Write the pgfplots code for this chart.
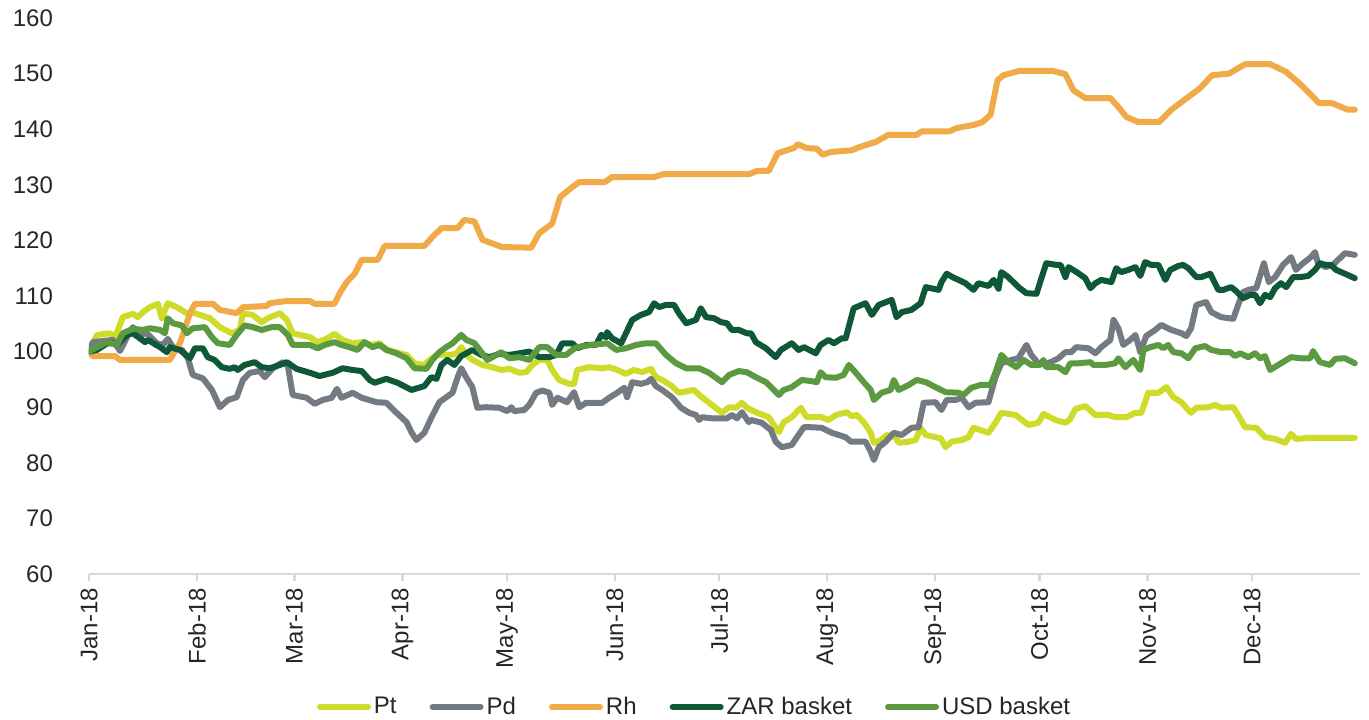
\documentclass[border=0pt]{standalone}
\usepackage{pgfplots}
\pgfplotsset{compat=1.18}
\usepackage{fontspec}
\setmainfont{Liberation Sans}
\definecolor{cPt}{RGB}{206,219,41}
\definecolor{cPd}{RGB}{115,122,130}
\definecolor{cRh}{RGB}{240,170,72}
\definecolor{cZAR}{RGB}{14,88,56}
\definecolor{cUSD}{RGB}{91,154,65}
\definecolor{axgray}{RGB}{217,217,217}
\begin{document}
\begin{tikzpicture}
\path[use as bounding box] (-44.5pt,-72.5pt) rectangle (640pt,287pt);
\begin{axis}[
  scale only axis,
  width=635.5pt, height=278pt,
  xmin=0, xmax=365, ymin=60, ymax=160,
  axis lines*=left,
  y axis line style={draw=none},
  x axis line style={draw=axgray, line width=1.2pt},
  ytick={60,70,...,160},
  ytick style={draw=none},
  xtick={0,31,59,90,120,151,181,212,243,273,304,334},
  xticklabels={Jan-18,Feb-18,Mar-18,Apr-18,May-18,Jun-18,Jul-18,Aug-18,Sep-18,Oct-18,Nov-18,Dec-18},
  xtick style={draw=axgray, line width=1.2pt},
  tick align=outside,
  major tick length=3.5pt,
  /pgf/number format/assume math mode=true,
  tick label style={font=\fontsize{12}{14}\selectfont, text=black!85},
  yticklabel style={xshift=-11pt},
  xticklabel style={rotate=90, anchor=east},
  legend style={at={(0.4768,-0.2392)}, anchor=center, draw=none, fill=none,
    font=\fontsize{12}{14}\selectfont, text=black!85,
    /tikz/every even column/.append style={column sep=15pt},
    nodes={inner sep=1.5pt}},
  legend columns=-1,
  legend image code/.code={\draw[line width=3pt, line cap=round] (0pt,0pt) -- (24pt,0pt);},
  every axis plot/.append style={line width=3pt, line join=round, line cap=round},
]
\addplot[cPt] coordinates {
(0,100)(2.3,103)(6.0,103.3)(7.5,102.6)(9.7,106.2)(12.6,106.8)(14.0,106.2)(15.5,107.1)(17.5,108)(19.8,108.6)(20.9,106)(22.6,108.7)(25.2,108)(28.1,106.9)(30.4,106.9)(31.8,106.6)(34.7,106)(37.6,104.4)(41.0,103.3)(43.3,103.9)(44.2,106.9)(47.0,106.6)(49.6,105.3)(51.3,106)(54.8,106.9)(56.8,105.7)(58.5,103.3)(60.5,103)(63.4,102.6)(65.7,101.7)(68.2,102.3)(70.5,103.2)(72.8,102.1)(75.7,101.5)(78.6,101.7)(81.1,101.2)(83.4,101.5)(85.7,100.3)(89.2,99.7)(91.2,99.4)(93.5,97.9)(96.3,97.6)(97.8,98.5)(99.8,99.4)(103.5,99.4)(105.5,99.6)(106.9,100.8)(108.4,99.4)(110.1,98.5)(113.0,97.6)(115.8,97.2)(118.4,96.7)(120.7,96.9)(123.6,96.2)(125.6,96.3)(127.3,97.6)(129.3,98.5)(131.6,98.5)(133.0,96.7)(135.0,94.9)(137.9,94.2)(139.3,94.2)(140.2,96.7)(143.6,97.2)(147.4,97)(149.4,97.2)(151.7,96.7)(154.2,96)(156.5,96.7)(158.8,96.3)(161.4,96.9)(162.8,95.4)(164.6,94.9)(167.4,93.8)(169.4,92.6)(173.7,93.1)(176.0,91.8)(178.9,90.4)(181.8,89)(183.8,90)(185.8,89.9)(187.5,90.8)(188.9,89.9)(191.5,89.1)(195.2,88.2)(198.1,85.5)(199.5,87.3)(201.8,88.2)(204.4,89.9)(206.1,88.2)(210.4,88.2)(212.4,87.7)(214.5,88.6)(217.6,89.1)(219.0,88.4)(220.5,88.6)(222.5,87.3)(224.5,85.4)(225.4,83.6)(227.4,84.1)(229.1,85)(231.7,84.6)(232.5,83.6)(235.4,83.8)(237.4,84.1)(238.8,86.3)(240.3,85)(243.1,84.6)(244.6,84.4)(246.0,82.8)(247.7,83.8)(250.6,84.1)(252.6,84.6)(254.0,86.3)(258.3,85.4)(260.3,87.2)(262.0,89)(266.1,88.6)(269.8,86.8)(272.6,87.2)(274.1,88.8)(277.5,87.7)(280.4,87.2)(281.8,87.9)(283.3,89.7)(286.1,90.2)(289.0,88.6)(292.7,88.6)(294.7,88.2)(297.9,88.2)(300.5,89)(302.2,89)(304.2,92.6)(307.1,92.6)(309.4,93.6)(311.4,91.8)(313.7,90.9)(315.1,89.9)(316.5,89)(318.0,89.9)(321.4,90)(323.4,90.4)(325.1,89.9)(328.6,90)(330.0,88.6)(332.0,86.4)(335.2,86.3)(337.7,84.6)(340.6,84.3)(343.5,83.6)(345.2,85.2)(346.6,84.3)(350.9,84.5)(363.5,84.5)
};
\addlegendentry{Pt}
\addplot[cPd] coordinates {
(0,100)(1.1,101.7)(6.9,102.1)(8.9,100.1)(10.9,102.6)(12.6,104.4)(14.6,103)(16.6,103.3)(19.5,101.5)(21.2,101.2)(22.6,102.3)(24.1,100.8)(26.7,100.3)(28.4,98.8)(29.8,95.8)(32.7,95.2)(35.3,93.1)(37.6,90)(39.9,91.3)(42.4,91.8)(44.2,94.9)(46.2,96.2)(49.0,96.5)(50.5,95.4)(52.8,97)(55.6,98.1)(57.1,97.5)(58.5,92.2)(62.5,91.7)(64.8,90.6)(67.1,91.3)(69.7,91.7)(71.2,93.3)(72.5,91.7)(75.7,92.6)(78.3,91.7)(82.6,90.9)(85.4,90.8)(88.3,89)(91.2,87.3)(92.6,85.5)(94.0,84.1)(96.3,85.4)(98.3,88.1)(100.6,90.9)(102.6,91.8)(104.4,92.6)(105.8,95.3)(106.9,97)(108.4,95.3)(110.1,93.6)(111.5,89.9)(114.1,90)(117.8,89.9)(120.1,89.3)(121.3,90)(122.1,89.3)(125.0,89.5)(126.4,90.4)(128.4,92.6)(130.2,93)(132.2,92.6)(133.0,90.4)(134.5,91.7)(137.3,90.9)(139.3,92.7)(140.8,90)(142.8,90.8)(147.4,90.8)(149.4,91.7)(151.7,92.6)(153.7,93.5)(154.5,91.8)(156.0,94.5)(158.5,94.2)(160.3,94.5)(161.4,95.1)(162.8,93.8)(164.6,93.1)(167.4,91.8)(170.0,89.9)(172.3,89)(174.3,88.6)(175.2,87.7)(176.0,88.2)(178.9,88)(183.2,88)(184.6,88.6)(186.1,88)(187.5,89.1)(189.5,87.3)(190.1,87.7)(193.2,87.2)(195.8,85.9)(197.2,83.8)(199.0,82.8)(201.8,83.2)(203.3,84.6)(205.3,86.4)(207.3,86.4)(210.4,86.3)(213.3,85.4)(217.3,84.6)(218.8,83.8)(223.0,83.8)(224.5,82)(225.4,80.5)(226.8,82.8)(228.8,83.8)(231.1,85.4)(233.4,85)(236.2,86.3)(238.2,86.4)(239.7,90.8)(243.1,90.9)(244.8,89.5)(246.3,91.3)(248.9,91.3)(250.6,91.7)(252.6,90)(254.6,90.8)(258.3,90.9)(260.3,95.4)(262.0,97.9)(264.9,98.5)(266.9,98.8)(269.2,101.2)(270.6,99.4)(272.6,97.9)(275.5,97.9)(278.4,98.8)(280.4,99.9)(282.1,99.9)(283.5,100.8)(287.0,100.6)(289.0,99.7)(290.7,100.8)(293.3,102.1)(294.2,105.7)(295.6,104.2)(297.0,101.2)(299.0,102.1)(300.5,103)(301.9,99.9)(303.6,102.8)(306.2,103.9)(307.9,104.8)(310.8,103.9)(313.7,103.3)(315.1,102.8)(316.5,104.2)(318.0,108.4)(320.8,108.9)(322.3,107.1)(325.1,106.2)(328.6,105.9)(330.0,108.4)(331.4,110.7)(332.9,111.1)(335.2,111.4)(337.4,115.9)(338.8,112.5)(340.6,113.4)(342.9,115.6)(345.2,117)(346.6,114.7)(348.1,115.6)(350.9,117)(352.1,117.9)(352.9,115.9)(355.2,115.2)(357.2,115.6)(358.7,116.5)(360.7,117.7)(363.5,117.4)
};
\addlegendentry{Pd}
\addplot[cRh] coordinates {
(0,100)(1.1,99.2)(7.5,99.2)(8.9,98.5)(23.2,98.5)(26.1,101.5)(29.0,106.9)(30.4,108.6)(35.6,108.6)(37.6,107.5)(42.4,106.9)(44.2,108)(51.0,108.2)(51.9,108.7)(56.8,109.1)(63.4,109.1)(64.8,108.6)(70.5,108.6)(72.0,110.5)(74.0,112.5)(76.3,114)(78.3,116.5)(82.9,116.5)(84.9,119)(96.3,119)(98.6,120.6)(101.2,122.2)(105.8,122.2)(107.8,123.7)(110.7,123.4)(113.0,120.1)(118.7,118.8)(127.0,118.7)(129.3,121.3)(133.0,123)(135.3,127.8)(138.8,129.6)(140.8,130.5)(148.2,130.5)(150.2,131.4)(162.3,131.4)(164.9,131.9)(189.5,131.9)(191.8,132.5)(195.2,132.5)(197.8,135.7)(202.4,136.6)(203.6,137.3)(206.1,136.6)(209.0,136.5)(210.7,135.4)(213.0,135.9)(219.0,136.2)(221.3,136.8)(225.9,137.7)(229.6,139)(237.7,139)(239.1,139.6)(247.1,139.6)(249.1,140.2)(254.3,140.8)(256.6,141.3)(258.9,142.6)(260.9,148.8)(262.6,149.7)(267.2,150.5)(276.7,150.5)(280.4,149.9)(282.7,147)(286.1,145.6)(293.3,145.6)(295.6,144)(297.9,142.2)(301.3,141.3)(307.3,141.3)(310.8,143.5)(315.7,145.8)(319.1,147.4)(322.5,149.7)(327.4,150)(332.0,151.7)(339.2,151.7)(343.8,150.3)(347.5,148.3)(350.9,146.2)(353.2,144.7)(356.9,144.7)(361.5,143.5)(363.5,143.5)
};
\addlegendentry{Rh}
\addplot[cZAR] coordinates {
(0,100)(2.3,100.3)(5.2,101.5)(6.9,101.5)(8.0,101.2)(10.9,103)(12.6,103.3)(14.6,102.4)(16.1,101.7)(16.9,102.1)(20.4,100.8)(22.4,99.9)(23.2,100.8)(26.1,100.3)(29.0,98.8)(30.4,100.6)(32.7,100.6)(34.1,99)(36.1,98.5)(38.1,97.2)(40.4,96.9)(41.9,97.2)(42.7,96.7)(44.7,97.6)(47.6,98.1)(49.6,97.2)(51.9,97)(54.8,97.6)(56.8,98.1)(59.6,96.9)(63.4,96.2)(66.2,95.6)(70.0,96.2)(72.8,97)(75.7,96.7)(78.3,96.5)(80.6,94.9)(82.0,94.4)(85.4,95.1)(88.6,94.4)(92.6,93.1)(96.3,93.8)(98.3,95.4)(99.8,95.1)(101.2,97.6)(102.9,98.5)(104.9,97.6)(106.9,99.2)(110.1,100.3)(112.7,99.4)(115.0,99)(117.8,99.6)(120.7,99.4)(123.6,99.7)(126.4,100)(129.3,99)(132.2,99)(134.2,99.4)(135.9,101.5)(138.8,101.5)(140.2,100.6)(142.8,101.2)(145.6,101.2)(147.1,103)(148.5,102.6)(148.8,103.5)(150.2,102.4)(152.8,101.5)(154.2,103.3)(156.0,105.7)(158.5,106.6)(160.8,107.1)(162.3,108.7)(163.7,108)(165.7,108.4)(168.0,108.4)(169.4,106.9)(171.5,105.1)(174.3,105.7)(175.7,107.8)(177.2,106.2)(179.5,106)(181.5,105.3)(183.2,105.1)(184.6,103.9)(186.6,103.9)(188.9,103.3)(190.1,103.3)(191.5,101.7)(194.4,100.6)(197.2,99)(198.7,100.3)(201.8,101.5)(203.8,100.3)(205.3,100.8)(208.7,99.7)(210.1,101.2)(212.4,102.1)(213.9,101.5)(216.2,102.4)(217.3,102.4)(219.6,107.8)(223.0,108.7)(224.8,106.6)(226.8,108.4)(230.5,109.3)(231.9,106.2)(233.4,107.1)(236.2,107.5)(238.8,108.7)(240.3,111.6)(244.0,111.1)(244.8,112.5)(246.3,114)(248.3,113.3)(249.7,112.9)(251.7,112.3)(254.0,111.1)(255.4,112.3)(258.3,111.8)(259.8,112.9)(261.2,111.3)(262.0,114.3)(264.0,113.4)(266.9,111.6)(269.2,110.5)(272.1,110.4)(273.5,113.2)(274.9,115.9)(277.8,115.6)(279.0,115.6)(280.4,113.4)(281.3,115.2)(284.1,114.1)(286.1,113.2)(287.6,111.4)(289.0,112.3)(290.7,112.9)(293.6,112.5)(295.0,115)(296.4,114.3)(298.5,114.7)(300.5,115.2)(301.9,113.6)(303.3,116.1)(305.0,115.6)(307.1,115.6)(309.1,112.9)(310.5,114.7)(312.8,115.4)(314.2,115.6)(315.7,115)(318.0,113.4)(319.4,113.4)(322.0,114)(324.3,111.1)(325.7,111.1)(328.0,111.6)(329.4,110.9)(331.4,109.6)(333.4,110.2)(334.9,110.2)(336.3,108.7)(337.7,110.2)(339.2,109.8)(340.6,111.4)(342.3,112.3)(343.8,111.6)(345.8,113.4)(347.8,113.4)(350.1,113.6)(352.1,114.7)(353.5,115.9)(355.0,115.6)(356.7,115.6)(358.1,114.7)(360.7,114)(363.5,113.2)
};
\addlegendentry{ZAR basket}
\addplot[cUSD] coordinates {
(0,100)(2.3,100.8)(5.2,101.7)(8.0,101.2)(9.7,103.3)(12.6,104.1)(15.5,103.9)(17.5,104.2)(20.4,103.9)(21.8,103.3)(22.6,106)(24.1,105.1)(26.7,104.7)(28.1,103.3)(29.8,104.2)(33.3,104.4)(35.3,102.6)(37.0,101.5)(40.4,101.2)(42.4,103)(44.7,104.7)(47.0,104.4)(49.6,103.9)(52.5,104.4)(54.8,104.4)(57.1,103)(58.5,101.2)(63.4,101.2)(65.7,100.6)(67.7,101.2)(70.5,101.7)(72.5,101.2)(74.8,100.8)(77.1,100.3)(79.1,101.7)(81.4,100.8)(83.4,101.2)(85.4,100.3)(88.3,99.7)(91.2,98.8)(93.5,97)(96.9,96.9)(98.6,98.5)(100.6,99.9)(102.6,100.8)(104.4,101.5)(106.9,103)(108.4,102.1)(110.7,101.5)(112.7,99.9)(114.4,98.5)(117.0,99.4)(118.4,99.9)(120.7,98.8)(123.6,99)(126.4,98.5)(129.3,100.8)(131.6,100.8)(134.2,99.4)(137.0,99.4)(138.8,100.3)(140.2,100.8)(144.2,101.2)(148.8,101.5)(151.4,100.3)(154.2,100.6)(157.1,101.2)(160.0,101.5)(162.8,101.5)(165.7,99.4)(168.6,97.9)(171.5,97)(175.2,97)(178.0,96.2)(181.8,94.5)(183.8,95.8)(186.6,96.5)(188.9,96.3)(191.5,95.4)(194.4,94.5)(196.7,93.1)(198.1,92.2)(199.5,93.1)(201.8,93.6)(204.7,94.9)(207.3,94.7)(209.0,94.5)(210.1,96.3)(211.5,95.4)(214.5,95.3)(216.7,95.8)(218.2,97.6)(220.2,96.2)(222.5,94.5)(224.5,93.1)(225.4,91.3)(227.6,92.6)(230.2,93.1)(231.1,94.9)(232.5,93.1)(235.4,94)(237.7,94.9)(240.3,94.5)(243.1,93.6)(246.0,92.7)(249.7,92.6)(251.1,92.2)(253.4,93.5)(256.0,94)(258.9,94)(260.3,96.2)(262.0,99.4)(264.0,98.1)(266.3,97.2)(268.4,98.5)(270.6,97.6)(273.2,97.6)(274.1,98.5)(274.9,97.2)(278.4,97.2)(280.4,96.3)(281.8,97.9)(284.1,97.9)(287.6,98.1)(288.4,97.6)(291.9,97.6)(294.7,97.9)(295.6,98.8)(297.6,97.2)(299.9,98.5)(301.9,96.7)(302.8,100.3)(304.8,100.8)(307.1,101.2)(308.5,100.6)(309.9,101.2)(311.4,99.9)(313.7,99.7)(315.7,98.8)(317.7,100.6)(320.5,101)(322.3,100.3)(325.1,99.9)(327.7,99.9)(329.1,99.2)(330.6,99.7)(332.9,99)(334.9,99.7)(336.3,98.8)(337.7,99.2)(339.2,96.7)(342.3,97.9)(345.2,99)(348.1,98.8)(350.7,98.8)(351.5,100.1)(353.5,98.1)(356.4,97.6)(357.9,98.7)(360.7,98.8)(363.5,97.9)
};
\addlegendentry{USD basket}
\end{axis}
\end{tikzpicture}
\end{document}
